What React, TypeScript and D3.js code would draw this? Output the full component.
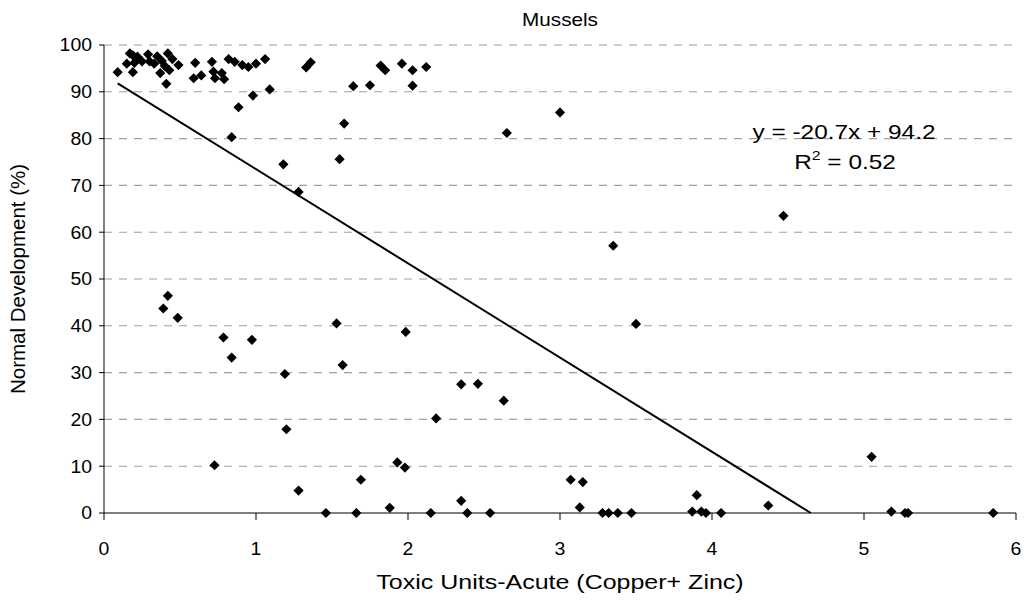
import React from "react";
import * as d3 from "d3";

const title = "Mussels";
const xLabel = "Toxic Units-Acute (Copper+ Zinc)";
const yLabel = "Normal Development (%)";
const xTicks = [0, 1, 2, 3, 4, 5, 6];
const yTicks = [0, 10, 20, 30, 40, 50, 60, 70, 80, 90, 100];

// Toxic units (x) and normal development % (y)
const toxicUnits = [
  0.09, 0.15, 0.17, 0.19, 0.2, 0.22, 0.19, 0.25, 0.29, 0.3, 0.33, 0.35, 0.37, 0.38, 0.4, 0.42,
  0.43, 0.45, 0.41, 0.49, 0.6, 0.59, 0.64, 0.71, 0.72, 0.73, 0.775, 0.79, 0.82, 0.86, 0.91,
  0.95, 1.0, 1.06, 0.98, 0.885, 1.09, 0.84, 1.18, 1.28, 1.33, 1.36, 1.55, 1.58, 1.64, 1.75,
  1.82, 1.85, 1.96, 2.03, 2.03, 2.12, 2.65, 3.0, 3.35, 4.47,
  0.39, 0.42, 0.485, 0.786, 0.84, 0.973, 1.19, 1.2, 1.28, 0.727, 1.46, 1.53, 1.57, 1.66, 1.69,
  1.88, 1.93, 1.98, 1.985, 2.15, 2.185, 2.35, 2.35, 2.39, 2.46, 2.54, 2.63, 3.07, 3.15, 3.13,
  3.28, 3.32, 3.38, 3.47, 3.5, 3.87, 3.9, 3.93, 3.96, 4.06, 4.37, 5.05, 5.18, 5.27, 5.29, 5.85,
];
const normalDev = [
  94.2, 96.0, 98.2, 94.2, 96.2, 97.5, 97.8, 96.5, 98.0, 96.5, 96.0, 97.6, 94.0, 96.6, 95.5, 98.2,
  94.6, 97.0, 91.7, 95.7, 96.2, 92.9, 93.5, 96.4, 94.3, 92.9, 94.0, 92.7, 97.0, 96.4, 95.7,
  95.3, 96.0, 97.0, 89.2, 86.7, 90.5, 80.3, 74.5, 68.6, 95.2, 96.3, 75.6, 83.2, 91.2, 91.4,
  95.6, 94.6, 96.0, 94.6, 91.3, 95.3, 81.2, 85.6, 57.1, 63.5,
  43.7, 46.4, 41.7, 37.5, 33.2, 37.0, 29.7, 17.9, 4.8, 10.2, 0.0, 40.5, 31.6, 0.0, 7.1,
  1.1, 10.8, 9.7, 38.7, 0.0, 20.2, 27.5, 2.6, 0.0, 27.6, 0.0, 24.0, 7.1, 6.6, 1.2,
  0.0, 0.0, 0.0, 0.0, 40.4, 0.3, 3.8, 0.3, 0.0, 0.0, 1.6, 12.0, 0.3, 0.0, 0.0, 0.0,
];

// Linear trend as drawn in the picture
const trendX = [0.09, 4.65];
const trendY = [91.8, 0];
const equationText = "y = -20.7x + 94.2";
const r2Value = "0.52";

const W = 1024;
const H = 601;
const M = { left: 104, right: 8, top: 45, bottom: 88 };
const FONT = "'Liberation Sans', Arial, sans-serif";
const SX = 1.22; // horizontal stretch of the reference's text

export default function App() {
  const x = d3.scaleLinear().domain([0, 6]).range([M.left, W - M.right]);
  const y = d3.scaleLinear().domain([0, 100]).range([H - M.bottom, M.top]);
  const diamond = d3.symbol(d3.symbolSquare, 52)() as string;
  const trend = d3.line<number>()((trendX.map((v, i) => [x(v), y(trendY[i])]) as any)) as string;
  const points = toxicUnits.map((v, i) => ({ x: v, y: normalDev[i] }));
  const x0 = x(0);
  const y0 = y(0);

  return (
    <svg width={W} height={H} style={{ position: "absolute", left: 0, top: 0, background: "#fff" }} fontFamily={FONT}>
      <rect width={W} height={H} fill="#fff" />
      <text transform={`translate(${(x(0) + x(6)) / 2},26) scale(1.15,1)`} textAnchor="middle" fontSize={18}>{title}</text>
      {yTicks.filter((t) => t > 0).map((t) => (
        <line key={"g" + t} x1={x0} x2={x(6)} y1={y(t)} y2={y(t)} stroke="#a0a0a0" strokeWidth={1.1} strokeDasharray="8,7" />
      ))}
      <line x1={x0} x2={x0} y1={y(100)} y2={y0} stroke="#000" />
      <line x1={x0} x2={x(6)} y1={y0} y2={y0} stroke="#000" />
      {yTicks.map((t) => (
        <g key={"y" + t}>
          <line x1={x0 - 5} x2={x0} y1={y(t)} y2={y(t)} stroke="#000" />
          <text transform={`translate(${x0 - 12},${y(t)}) scale(1.08,1)`} dy="0.36em" textAnchor="end" fontSize={18}>{t}</text>
        </g>
      ))}
      {xTicks.map((t) => (
        <g key={"x" + t}>
          <line x1={x(t)} x2={x(t)} y1={y0} y2={y0 + 7} stroke="#000" />
          <text transform={`translate(${x(t)},${y0 + 42}) scale(1.08,1)`} textAnchor="middle" fontSize={18}>{t}</text>
        </g>
      ))}
      <text transform={`translate(${(x(0) + x(6)) / 2},${y0 + 76}) scale(1.25,1)`} textAnchor="middle" fontSize={20}>{xLabel}</text>
      <text transform={`translate(25,${(y(0) + y(100)) / 2}) rotate(-90)`} textAnchor="middle" fontSize={20.5}>{yLabel}</text>
      {points.map((p, i) => (
        <path key={i} d={diamond} transform={`translate(${x(p.x)},${y(p.y)}) rotate(45)`} fill="#000" />
      ))}
      <path d={trend} stroke="#000" strokeWidth={2} fill="none" />
      <text transform={`translate(844,139) scale(${SX},1)`} textAnchor="middle" fontSize={20}>{equationText}</text>
      <text transform={`translate(845,169) scale(${SX},1)`} textAnchor="middle" fontSize={20}>
        R<tspan dy={-9} fontSize={13}>2</tspan><tspan dy={9}> = {r2Value}</tspan>
      </text>
    </svg>
  );
}
